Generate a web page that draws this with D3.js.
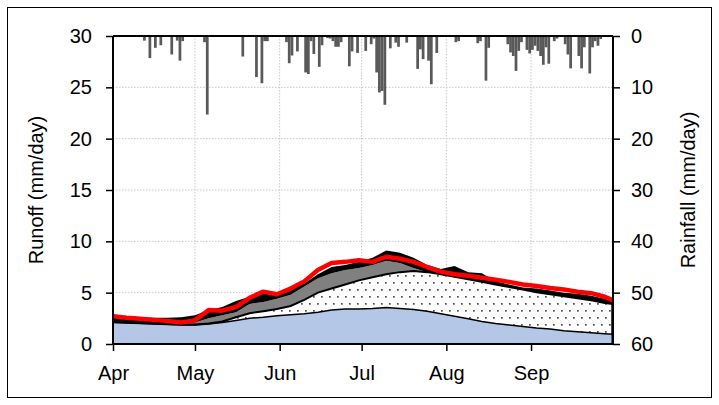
<!DOCTYPE html>
<html>
<head>
<meta charset="utf-8">
<script src="https://cdn.jsdelivr.net/npm/d3@7"></script>
<style>
    body { margin: 0; background: #fff; }
    svg text { font-family: 'Liberation Sans', Arial, sans-serif; fill: #000; }
</style>
</head>
<body>
<div id="chart"></div>
<script>
'use strict';

// days since 1 April, sampled every 5 days
var days = [0, 5, 10, 15, 20, 25, 30, 35, 40, 45, 50, 55, 60, 65, 70, 75, 80, 85, 90, 95, 100,
    105, 110, 115, 120, 125, 130, 135, 140, 145, 150, 155, 160, 165, 170, 175, 180, 183]

// cumulative tops of the stacked runoff components (mm/day)
var blueTop = [2.1, 2.05, 2.0, 1.95, 1.9, 1.85, 1.85, 1.95, 2.1, 2.3, 2.5, 2.6, 2.75, 2.85, 2.95, 3.1, 3.3, 3.4, 3.4, 3.45, 3.55,
    3.45, 3.35, 3.2, 2.95, 2.7, 2.45, 2.2, 2.0, 1.85, 1.7, 1.55, 1.45, 1.3, 1.2, 1.1, 1.0, 0.95]
var dottedTop = [2.15, 2.1, 2.05, 2.0, 1.95, 1.9, 1.9, 2.0, 2.2, 2.6, 3.0, 3.2, 3.4, 3.7, 4.3, 5.0, 5.4, 5.8, 6.2, 6.5, 6.8,
    7.0, 7.1, 7.0, 6.8, 6.55, 6.3, 6.05, 5.8, 5.55, 5.3, 5.05, 4.85, 4.65, 4.45, 4.25, 4.0, 3.9]
var grayTop = [2.2, 2.15, 2.1, 2.05, 2.0, 2.0, 2.1, 2.5, 2.8, 3.1, 3.9, 4.1, 4.4, 4.8, 5.6, 6.4, 6.9, 7.2, 7.4, 7.7, 8.1,
    7.9, 7.4, 7.0, 6.8, 6.55, 6.3, 6.05, 5.8, 5.55, 5.3, 5.05, 4.85, 4.65, 4.45, 4.25, 4.0, 3.9]
var blackTop = [2.75, 2.65, 2.6, 2.55, 2.55, 2.6, 2.8, 3.3, 3.6, 4.2, 4.6, 5.1, 5.0, 5.4, 5.9, 6.8, 7.5, 7.7, 8.0, 8.4, 9.1,
    8.9, 8.4, 7.7, 7.3, 7.6, 7.0, 6.9, 6.1, 5.8, 5.5, 5.4, 5.2, 5.0, 4.9, 4.7, 4.4, 4.2]
// red line
var redLine = [2.7, 2.55, 2.45, 2.35, 2.25, 2.1, 2.3, 3.3, 3.25, 3.6, 4.5, 5.1, 4.85, 5.4, 6.1, 7.2, 7.9, 8.0, 8.15, 8.0, 8.5,
    8.3, 8.0, 7.5, 7.05, 6.8, 6.65, 6.45, 6.25, 6.05, 5.8, 5.65, 5.45, 5.3, 5.1, 4.95, 4.6, 4.25]

// daily rainfall (day since 1 April, mm/day)
var rainDay = [11, 13, 15, 17, 21, 23, 24, 25, 33, 34,
    47, 52, 54, 55, 56, 63, 64, 65, 67, 70, 71, 72, 73, 75, 76, 78, 79, 80, 81, 82, 83, 86, 87, 89,
    92, 94, 95, 96, 97, 98, 99, 101, 103, 104, 107, 111, 112, 113, 115, 116, 118, 125, 126, 133, 134, 136, 137,
    144, 145, 146, 147, 148, 149, 151, 152, 153, 154, 155, 156, 157, 158, 159, 161, 162, 165, 166, 167,
    170, 171, 172, 174, 175, 176, 177, 178]
var rainMm = [0.9, 4.3, 2.3, 1.8, 3.6, 0.9, 4.8, 1.0, 1.2, 15.3,
    4.0, 8.0, 9.2, 1.0, 1.0, 1.2, 5.3, 3.8, 3.0, 7.1, 7.4, 1.0, 3.5, 6.0, 1.8, 0.4, 0.5, 1.0, 2.1, 2.1, 1.2, 5.9, 3.0, 3.3,
    2.9, 1.6, 0.5, 7.1, 11.0, 10.7, 13.4, 2.4, 1.3, 2.1, 1.3, 6.4, 2.6, 4.5, 4.8, 9.4, 3.3, 1.2, 1.0, 1.4, 1.0, 8.7, 2.3,
    1.6, 3.2, 3.9, 6.8, 2.9, 1.2, 2.7, 3.4, 2.7, 1.9, 2.9, 3.9, 5.6, 2.2, 5.4, 1.0, 0.5, 1.6, 3.6, 6.3,
    3.9, 6.3, 2.2, 7.3, 2.2, 1.0, 1.9, 0.6]

var monthLabels = ['Apr', 'May', 'Jun', 'Jul', 'Aug', 'Sep']
var runoffTicks = [0, 5, 10, 15, 20, 25, 30]
var rainTicks = [0, 10, 20, 30, 40, 50, 60]

var width = 719
var height = 405
var padding = { left: 113, right: 107, top: 36, bottom: 61 }

var startDate = new Date(2000, 3, 1)
var endDate = new Date(2000, 9, 1)
function dateOf(d) {
    return d3.timeDay.offset(startDate, d)
}

var svg = d3.select('#chart').append('svg').attr('width', width).attr('height', height)

// outer frame
svg.append('rect')
    .attr('x', 7.5).attr('y', 7.5)
    .attr('width', 704).attr('height', 390)
    .style('fill', 'none').style('stroke', '#000').style('stroke-width', 1)

var xScale = d3.scaleTime().domain([startDate, endDate]).range([padding.left, width - padding.right + 1])
var yScale = d3.scaleLinear().domain([0, 30]).range([height - padding.bottom, padding.top])
var rScale = d3.scaleLinear().domain([0, 60]).range([padding.top, height - padding.bottom])

var x0 = xScale.range()[0]
var x1 = xScale.range()[1]
var monthDates = d3.timeMonth.range(startDate, endDate)

// pattern for the dotted layer
var defs = svg.append('defs')
var pat = defs.append('pattern')
    .attr('id', 'dots')
    .attr('patternUnits', 'userSpaceOnUse')
    .attr('width', 8).attr('height', 14)
pat.append('rect').attr('width', 8).attr('height', 14).style('fill', '#fff')
pat.append('rect').attr('x', 1).attr('y', 2).attr('width', 1.7).attr('height', 1.7).style('fill', '#4d4d4d')
pat.append('rect').attr('x', 5).attr('y', 9).attr('width', 1.7).attr('height', 1.7).style('fill', '#4d4d4d')

// grid
var grid = svg.append('g').attr('class', 'grid')
grid.selectAll('.hgrid')
    .data(runoffTicks.slice(1, -1))
    .enter().append('line')
    .attr('x1', x0).attr('x2', x1)
    .attr('y1', function(d) { return yScale(d) })
    .attr('y2', function(d) { return yScale(d) })
    .style('stroke', '#c8c8c8').style('stroke-width', 1).style('stroke-dasharray', '1.5,1.5')
grid.selectAll('.vgrid')
    .data(monthDates.slice(1))
    .enter().append('line')
    .attr('x1', function(d) { return xScale(d) })
    .attr('x2', function(d) { return xScale(d) })
    .attr('y1', yScale(30)).attr('y2', yScale(0))
    .style('stroke', '#c8c8c8').style('stroke-width', 1).style('stroke-dasharray', '1.5,1.5')

// stacked areas
var layers = [
    { lower: null, upper: blueTop, fill: '#b4c7e7' },
    { lower: blueTop, upper: dottedTop, fill: 'url(#dots)' },
    { lower: dottedTop, upper: grayTop, fill: '#808080' },
    { lower: grayTop, upper: blackTop, fill: '#000' }
]
layers.forEach(function(layer) {
    var area = d3.area()
        .x(function(d, i) { return xScale(dateOf(days[i])) })
        .y0(function(d, i) { return yScale(layer.lower ? layer.lower[i] : 0) })
        .y1(function(d, i) { return yScale(layer.upper[i]) })
    svg.append('path')
        .datum(days)
        .attr('d', area)
        .style('fill', layer.fill)
        .style('stroke', 'none')
})

// right edges of blue and dotted areas
svg.append('line')
    .attr('x1', x1 - 1).attr('x2', x1 - 1)
    .attr('y1', yScale(0)).attr('y2', yScale(blueTop[blueTop.length - 1]))
    .style('stroke', '#1f3864').style('stroke-width', 1.5)
svg.append('line')
    .attr('x1', x1 - 1).attr('x2', x1 - 1)
    .attr('y1', yScale(blueTop[blueTop.length - 1])).attr('y2', yScale(dottedTop[dottedTop.length - 1]))
    .style('stroke', '#000').style('stroke-width', 1.5)

function edge(values) {
    return d3.line()
        .x(function(d, i) { return xScale(dateOf(days[i])) })
        .y(function(d, i) { return yScale(values[i]) })
}
svg.append('path').datum(days).attr('d', edge(blueTop))
    .style('fill', 'none').style('stroke', '#000').style('stroke-width', 1.5)
svg.append('path').datum(days).attr('d', edge(dottedTop))
    .style('fill', 'none').style('stroke', '#000').style('stroke-width', 2)

// red line
svg.append('path').datum(days).attr('d', edge(redLine))
    .style('fill', 'none').style('stroke', '#ff0000').style('stroke-width', 4.5)
    .style('stroke-linejoin', 'round')

// rainfall bars hanging from the top
var dayW = xScale(dateOf(1)) - xScale(dateOf(0))
svg.selectAll('.rain')
    .data(rainDay)
    .enter().append('rect')
    .attr('class', 'rain')
    .attr('x', function(d) { return xScale(dateOf(d)) })
    .attr('y', rScale(0))
    .attr('width', dayW)
    .attr('height', function(d, i) { return rScale(rainMm[i]) - rScale(0) })
    .style('fill', '#595959')

// axes
var fontSize = '20px'
var leftAxis = svg.append('g')
    .attr('transform', 'translate(' + x0 + ',0)')
    .call(d3.axisLeft(yScale).tickValues(runoffTicks).tickSize(7).tickPadding(14))
var rightAxis = svg.append('g')
    .attr('transform', 'translate(' + x1 + ',0)')
    .call(d3.axisRight(rScale).tickValues(rainTicks).tickSize(7).tickPadding(11))
var bottomAxis = svg.append('g')
    .attr('transform', 'translate(0,' + yScale(0) + ')')
    .call(d3.axisBottom(xScale).tickValues(monthDates).tickSize(7).tickPadding(15)
        .tickFormat(function(d, i) { return monthLabels[i] }))
svg.append('line')
    .attr('x1', x0).attr('x2', x1)
    .attr('y1', yScale(30)).attr('y2', yScale(30))
    .style('stroke', '#000').style('stroke-width', 2)

;[leftAxis, rightAxis, bottomAxis].forEach(function(g) {
    g.select('.domain').style('stroke', '#000').style('stroke-width', 2)
    g.selectAll('.tick line').style('stroke', '#000').style('stroke-width', 1.5)
    g.selectAll('.tick text').style('font-size', fontSize).style('font-family', "'Liberation Sans', Arial, sans-serif")
})
// domain paths without outer ticks
leftAxis.select('.domain').attr('d', 'M0,' + yScale(30) + 'V' + yScale(0))
rightAxis.select('.domain').attr('d', 'M0,' + rScale(0) + 'V' + rScale(60))
bottomAxis.select('.domain').attr('d', 'M' + x0 + ',0H' + x1)

// axis titles
svg.append('text')
    .attr('transform', 'translate(43,' + (yScale(15)) + ') rotate(-90)')
    .attr('text-anchor', 'middle')
    .style('font-size', fontSize)
    .text('Runoff (mm/day)')
svg.append('text')
    .attr('transform', 'translate(695,' + (yScale(15)) + ') rotate(-90)')
    .attr('text-anchor', 'middle')
    .style('font-size', fontSize)
    .text('Rainfall (mm/day)')
</script>
</body>
</html>
